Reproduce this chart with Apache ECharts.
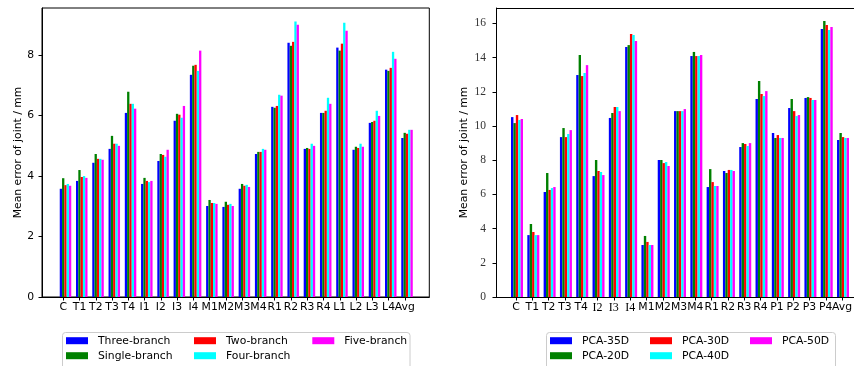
<!DOCTYPE html>
<html><head><meta charset="utf-8">
<script src="https://cdn.jsdelivr.net/npm/echarts@6/dist/echarts.min.js"></script>
<style>html,body{margin:0;padding:0;background:#fff}#c{width:854px;height:366px}</style>
</head><body><div id="c"></div>
<script>
// ---- Left chart data ----
const catsL = ['C','T1','T2','T3','T4','I1','I2','I3','I4','M1','M2','M3','M4','R1','R2','R3','R4','L1','L2','L3','L4','Avg'];
const threeBranch  = [3.58,3.84,4.44,4.90,6.09,3.74,4.50,5.83,7.35,3.01,2.98,3.58,4.73,6.29,8.41,4.90,6.09,8.25,4.87,5.76,7.52,5.26];
const singleBranch = [3.93,4.20,4.73,5.33,6.79,3.94,4.73,6.06,7.65,3.21,3.15,3.74,4.80,6.26,8.31,4.93,6.09,8.15,4.97,5.79,7.48,5.43];
const twoBranch    = [3.70,3.97,4.57,5.07,6.39,3.84,4.70,6.03,7.68,3.11,3.05,3.68,4.80,6.32,8.44,4.90,6.16,8.38,4.93,5.83,7.58,5.40];
const fourBranch   = [3.74,4.00,4.57,5.07,6.39,3.80,4.64,5.93,7.48,3.11,3.08,3.71,4.90,6.69,9.11,5.07,6.59,9.07,5.07,6.16,8.11,5.53];
const fiveBranch   = [3.68,3.94,4.54,5.00,6.23,3.84,4.87,6.32,8.15,3.08,3.01,3.64,4.87,6.66,9.01,5.00,6.39,8.81,4.97,5.99,7.88,5.53];
const yTicksL = [0,2,4,6,8];

// ---- Right chart data ----
const catsR = ['C','T1','T2','T3','T4','I2','I3','I4','M1','M2','M3','M4','R1','R2','R3','R4','P1','P2','P3','P4','Avg'];
const pca35 = [10.52,3.62,6.14,9.35,12.98,7.07,10.47,14.62,3.04,8.01,10.87,14.09,6.43,7.37,8.77,11.58,9.59,11.05,11.64,15.67,9.18];
const pca20 = [10.17,4.27,7.25,9.88,14.15,8.01,10.76,14.73,3.57,8.01,10.87,14.33,7.48,7.25,9.00,12.63,9.30,11.58,11.69,16.14,9.59];
const pca30 = [10.64,3.80,6.26,9.35,12.92,7.37,11.11,15.38,3.22,7.83,10.87,14.09,6.72,7.43,8.95,11.87,9.47,10.87,11.64,15.90,9.35];
const pca40 = [10.35,3.62,6.37,9.53,13.10,7.31,11.11,15.32,3.04,7.89,10.87,14.09,6.49,7.43,8.83,11.75,9.30,10.58,11.52,15.61,9.30];
const pca50 = [10.41,3.62,6.43,9.76,13.56,7.13,10.87,14.97,3.04,7.66,10.99,14.15,6.49,7.37,9.00,12.04,9.30,10.64,11.52,15.79,9.30];
const yTicksR = [0,2,4,6,8,10,12,14,16];

const SANS = 'DejaVu Sans';
const SERIF = 'Liberation Serif';
const colors = ['#0000ff','#008000','#ff0000','#00ffff','#ff00ff'];

const offL = -0.135, offR = -0.06;
const tickValsL = catsL.map((c,i)=>i+offL);
const tickValsR = catsR.map((c,i)=>i+offR);
// extra (empty) label slot so the real last label is not treated as the edge label
const labelValsL = tickValsL.concat([22.3]);
const labelValsR = tickValsR.concat([20.65]);

function mk(name, vals, ci, axis, bw){
  return {
    name, type:'bar', xAxisIndex:axis, yAxisIndex:axis,
    barWidth:bw, barGap:'0%', itemStyle:{color:colors[ci]},
    data: vals.map((v,i)=>[i,v]), silent:true
  };
}

const chart = echarts.init(document.getElementById('c'), null, {renderer:'canvas'});
const legText = {fontFamily:SANS, fontSize:10.8, color:'#000', lineHeight:12, padding:[0,0,0,5]};
function leg(left, top, data){
  return {orient:'vertical', left, top, padding:0, itemWidth:22, itemHeight:7, itemGap:3,
    icon:'rect', selectedMode:false, textStyle:legText, data};
}
const ylabelStyle = {fontFamily:SANS, fontSize:10.8, color:'#000'};

chart.setOption({
  animation:false,
  backgroundColor:'#fff',
  grid:[
    {left:42, right:854-429.3, top:8, bottom:69, show:true, borderColor:'#000', borderWidth:1, backgroundColor:'transparent', outerBoundsMode:'none', containLabel:false},
    {left:496, right:0, top:8, bottom:69, show:false, outerBoundsMode:'none', containLabel:false}
  ],
  xAxis:[
    {type:'value', gridIndex:0, min:-1.445, max:22.37, splitLine:{show:false},
     axisLine:{show:true, onZero:false, lineStyle:{color:'#000'}},
     axisTick:{show:true, length:3.5, customValues:tickValsL, lineStyle:{color:'#000'}},
     axisLabel:{customValues:labelValsL, margin:5, hideOverlap:false, fontFamily:SANS, fontSize:10.8, color:'#000',
       formatter:v=>catsL[Math.round(v)] || ''}},
    {type:'value', gridIndex:1, min:-1.29, max:20.673, splitLine:{show:false},
     axisLine:{show:true, onZero:false, lineStyle:{color:'#000'}},
     axisTick:{show:true, length:3.5, customValues:tickValsR, lineStyle:{color:'#000'}},
     axisLabel:{customValues:labelValsR, margin:5, hideOverlap:false, fontFamily:SANS, fontSize:10.8, color:'#000',
       formatter:v=>{const r=Math.round(v); if (v>20.5) return ''; const c=catsR[r]; return /^I/.test(c)?'{s|'+c+'}':c;},
       rich:{s:{fontFamily:SERIF, fontSize:12, color:'#000'}}}}
  ],
  yAxis:[
    {type:'value', gridIndex:0, min:0, max:9.56, splitLine:{show:false},
     axisLine:{show:true, onZero:false, lineStyle:{color:'#000'}},
     axisTick:{show:true, length:3.5, customValues:yTicksL, lineStyle:{color:'#000'}},
     axisLabel:{customValues:yTicksL, margin:8, fontFamily:SANS, fontSize:10.8, color:'#000'},
     name:'Mean error of joint / mm', nameLocation:'middle', nameGap:18, nameTextStyle:ylabelStyle},
    {type:'value', gridIndex:1, min:0, max:16.9, splitLine:{show:false},
     axisLine:{show:true, onZero:false, lineStyle:{color:'#000'}},
     axisTick:{show:true, length:3.5, customValues:yTicksR, lineStyle:{color:'#000'}},
     axisLabel:{customValues:yTicksR, margin:10, fontFamily:SERIF, fontSize:11.5, color:'#333'},
     name:'Mean error of joint / mm', nameLocation:'middle', nameGap:26, nameTextStyle:ylabelStyle}
  ],
  legend:[
    leg(66, 334.7, ['Three-branch','Single-branch']),
    leg(194, 334.7, ['Two-branch','Four-branch']),
    leg(312.3, 334.7, ['Five-branch']),
    leg(550, 334.7, ['PCA-35D','PCA-20D']),
    leg(650, 334.7, ['PCA-30D','PCA-40D']),
    leg(750, 334.7, ['PCA-50D'])
  ],
  graphic:[
    {type:'line', z:10, shape:{x1:496, y1:8.5, x2:854, y2:8.5}, style:{stroke:'#000', lineWidth:1}},
    {type:'rect', z:0, shape:{x:62.5, y:332.5, width:347.5, height:40, r:3}, style:{fill:'#fff', stroke:'#cccccc', lineWidth:1}},
    {type:'rect', z:0, shape:{x:546.5, y:332.5, width:289, height:40, r:3}, style:{fill:'#fff', stroke:'#cccccc', lineWidth:1}}
  ],
  series:[
    mk('Three-branch', threeBranch, 0, 0, 2.3),
    mk('Single-branch', singleBranch, 1, 0, 2.3),
    mk('Two-branch', twoBranch, 2, 0, 2.3),
    mk('Four-branch', fourBranch, 3, 0, 2.3),
    mk('Five-branch', fiveBranch, 4, 0, 2.3),
    mk('PCA-35D', pca35, 0, 1, 2.4),
    mk('PCA-20D', pca20, 1, 1, 2.4),
    mk('PCA-30D', pca30, 2, 1, 2.4),
    mk('PCA-40D', pca40, 3, 1, 2.4),
    mk('PCA-50D', pca50, 4, 1, 2.4)
  ]
});
</script></body></html>
